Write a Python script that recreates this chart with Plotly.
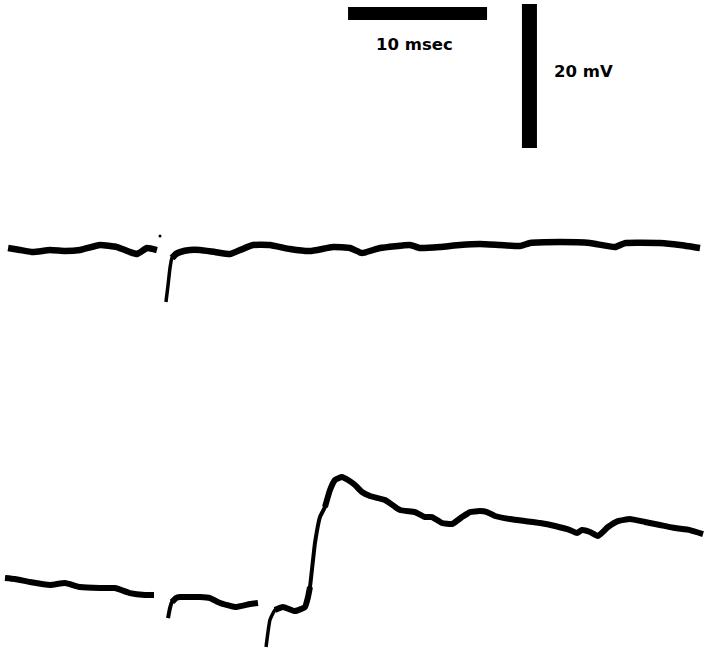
import plotly.graph_objects as go

# Calibration
SCALE_T_MS = 10.0     # horizontal bar
SCALE_V_MV = 20.0     # vertical bar

# ---- Trace 1 (upper record), mV relative to its resting level ----
t1a = [0.58, 1.44, 2.37, 3.60, 4.68, 5.76, 7.19, 8.42, 9.35, 9.86, 10.58, 11.29]
v1a = [0.00, -0.28, -0.56, -0.28, -0.42, -0.28, 0.42, 0.14, -0.56, -0.83, 0.00, -0.28]

t1b = [11.94, 12.09, 12.23, 12.37, 12.66, 12.95, 13.67, 14.39, 15.47, 16.55, 17.27,
       18.20, 19.42, 20.86, 22.30, 23.96, 25.18, 26.04, 27.34, 29.50, 30.22, 31.65,
       33.09, 34.53, 35.97, 37.41, 38.13, 40.29, 42.45, 44.24, 44.96, 47.48, 48.92, 50.36]
v1b = [-7.50, -5.14, -2.78, -1.39, -0.83, -0.56, -0.28, -0.28, -0.56, -0.83, -0.28,
       0.42, 0.42, -0.14, -0.42, 0.14, 0.00, -0.69, 0.00, 0.42, 0.00, 0.14,
       0.42, 0.56, 0.42, 0.28, 0.69, 0.83, 0.69, 0.14, 0.69, 0.69, 0.42, 0.00]

t1dot = [11.51]
v1dot = [1.67]

# ---- Trace 2 (lower record), mV relative to its starting level ----
t2a = [0.36, 1.08, 2.16, 3.60, 4.68, 5.76, 7.19, 8.27, 9.35, 10.43, 11.08]
v2a = [0.28, 0.14, -0.28, -0.69, -0.42, -0.97, -1.11, -1.11, -1.81, -2.08, -2.08]

t2b = [12.09, 12.23, 12.37, 12.66, 12.95, 14.39, 15.11, 15.83, 16.91, 17.99, 18.56]
v2b = [-5.28, -3.89, -3.06, -2.50, -2.36, -2.36, -2.50, -3.19, -3.75, -3.33, -3.19]

t2c = [19.14, 19.28, 19.42, 19.78, 20.36, 21.22, 21.94, 22.16, 22.30, 22.52, 22.66,
       23.02, 23.38, 23.74, 24.10, 24.60, 25.04, 25.54, 26.04, 26.62, 27.70, 28.78,
       29.86, 30.58, 31.08, 31.80, 32.52, 33.24, 33.81, 34.53, 35.04, 35.61, 36.69,
       37.77, 38.85, 39.93, 41.01, 41.51, 41.87, 42.45, 43.02, 43.74, 44.46, 45.32,
       46.40, 47.48, 48.56, 49.64, 50.58]
v2c = [-9.31, -7.22, -5.56, -4.17, -3.75, -4.31, -3.75, -2.36, -0.97, 2.78, 5.14,
       8.75, 10.14, 12.50, 13.89, 14.31, 13.89, 13.19, 12.22, 11.67, 11.11, 9.72,
       9.44, 8.75, 8.75, 7.92, 7.78, 8.75, 9.44, 9.58, 9.44, 8.89, 8.47,
       8.19, 7.92, 7.50, 6.94, 6.53, 6.94, 6.67, 6.11, 7.36, 8.19, 8.47,
       8.06, 7.64, 7.22, 6.94, 6.39]

# ---- layout of the plate (display offsets, ms / mV) ----
X_RANGE = [0, 50.72]
Y_RANGE = [0, 90.14]
OFFSET1 = 55.69
OFFSET2 = 9.58
HBAR_X0, HBAR_Y = 25.04, 88.26
VBAR_X, VBAR_Y0 = 38.09, 69.58

INK = "#000000"

fig = go.Figure()

def seg(t, v, off, w):
    fig.add_trace(go.Scatter(
        x=t, y=[vv + off for vv in v], mode="lines",
        line=dict(color=INK, width=w, shape="spline", smoothing=0.4),
        hoverinfo="skip", showlegend=False))

seg(t1a, v1a, OFFSET1, 6.5)
seg(t1b[:5], v1b[:5], OFFSET1, 3.5)
seg(t1b[3:], v1b[3:], OFFSET1, 6.5)
fig.add_trace(go.Scatter(x=t1dot, y=[v + OFFSET1 for v in v1dot], mode="markers",
                         marker=dict(color=INK, size=3), hoverinfo="skip", showlegend=False))

seg(t2a, v2a, OFFSET2, 6)
seg(t2b[:4], v2b[:4], OFFSET2, 4)
seg(t2b[2:], v2b[2:], OFFSET2, 6)
seg(t2c[:5], v2c[:5], OFFSET2, 3.5)
seg(t2c[3:9], v2c[3:9], OFFSET2, 6)
seg(t2c[7:14], v2c[7:14], OFFSET2, 4)
seg(t2c[12:], v2c[12:], OFFSET2, 6)

# scale bars
fig.add_shape(type="rect", x0=HBAR_X0, x1=HBAR_X0 + SCALE_T_MS,
              y0=HBAR_Y - 0.9, y1=HBAR_Y + 0.9,
              fillcolor=INK, line=dict(width=0), xref="x", yref="y")
fig.add_shape(type="rect", x0=VBAR_X - 0.54, x1=VBAR_X + 0.54,
              y0=VBAR_Y0, y1=VBAR_Y0 + SCALE_V_MV,
              fillcolor=INK, line=dict(width=0), xref="x", yref="y")

fig.add_annotation(x=HBAR_X0 + SCALE_T_MS / 2 - 0.25, y=83.9, xref="x", yref="y",
                   text="<b>%d msec</b>" % SCALE_T_MS, showarrow=False,
                   font=dict(family="DejaVu Sans", size=16.5, color=INK))
fig.add_annotation(x=41.95, y=80.2, xref="x", yref="y",
                   text="<b>%d mV</b>" % SCALE_V_MV, showarrow=False,
                   font=dict(family="DejaVu Sans", size=16.5, color=INK))

fig.update_layout(
    width=705, height=649,
    margin=dict(l=0, r=0, t=0, b=0),
    paper_bgcolor="white", plot_bgcolor="white",
    xaxis=dict(range=X_RANGE, visible=False, fixedrange=True),
    yaxis=dict(range=Y_RANGE, visible=False, fixedrange=True),
)

fig.write_html("out.html")
